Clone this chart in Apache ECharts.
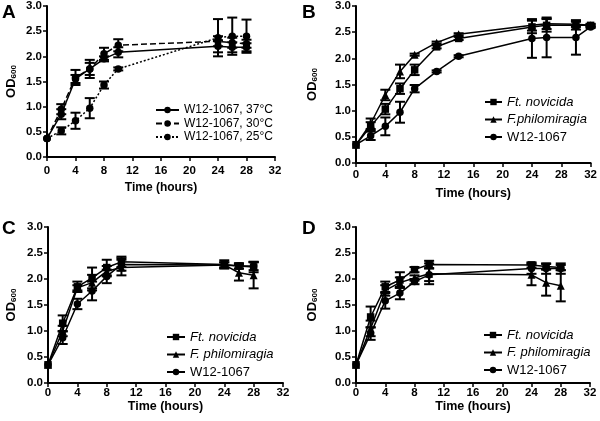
<!DOCTYPE html>
<html>
<head>
<meta charset="utf-8">
<script src="https://cdn.jsdelivr.net/npm/echarts@6/dist/echarts.min.js"></script>
<style>
  body { margin: 0; background: #fff; }
  #chart { width: 600px; height: 421px; }
</style>
</head>
<body>
<div id="chart"></div>
<script>
// panel A: W12-1067 at three temperatures
var timeA = [0, 2, 4, 6, 8, 10, 24, 26, 28];
var a37 = [0.37, 0.85, 1.55, 1.75, 1.95, 2.08, 2.2, 2.18, 2.18];
var a37Err = [0, 0.1, 0.08, 0.12, 0.05, 0.1, 0.12, 0.1, 0.08];
var a30 = [0.37, 0.95, 1.58, 1.75, 2.05, 2.22, 2.3, 2.27, 2.25];
var a30Err = [0, 0.1, 0.15, 0.18, 0.12, 0.12, 0.1, 0.1, 0.08];
var a25 = [0.37, 0.52, 0.72, 0.97, 1.43, 1.75, 2.37, 2.4, 2.4];
var a25Err = [0, 0.07, 0.16, 0.2, 0.07, 0.03, 0.37, 0.37, 0.33];

// panel B
var timeB = [0, 2, 4, 6, 8, 11, 14, 24, 26, 30, 32];
var bNov = [0.35, 0.7, 1.03, 1.42, 1.78, 2.22, 2.38, 2.6, 2.63, 2.63, 2.63];
var bNovErr = [0, 0.08, 0.1, 0.1, 0.1, 0.03, 0.03, 0.12, 0.12, 0.08, 0.03];
var bPhi = [0.35, 0.75, 1.3, 1.75, 2.07, 2.3, 2.46, 2.63, 2.66, 2.65, 2.63];
var bPhiErr = [0, 0.1, 0.1, 0.13, 0.02, 0.02, 0.02, 0.1, 0.1, 0.05, 0.02];
var bW12 = [0.35, 0.52, 0.7, 0.97, 1.42, 1.75, 2.04, 2.38, 2.4, 2.4, 2.6];
var bW12Err = [0, 0.08, 0.17, 0.2, 0.07, 0.02, 0.02, 0.37, 0.38, 0.33, 0.02];

// panel C
var timeC = [0, 2, 4, 6, 8, 10, 24, 26, 28];
var cNov = [0.35, 1.15, 1.85, 2.02, 2.22, 2.33, 2.28, 2.25, 2.23];
var cNovErr = [0, 0.15, 0.1, 0.2, 0.15, 0.1, 0.08, 0.05, 0.1];
var cPhi = [0.35, 1.0, 1.83, 1.93, 2.15, 2.22, 2.27, 2.12, 2.07];
var cPhiErr = [0, 0.1, 0.05, 0.15, 0.1, 0.15, 0.05, 0.15, 0.25];
var cW12 = [0.35, 0.87, 1.52, 1.77, 2.05, 2.28, 2.27, 2.25, 2.25];
var cW12Err = [0, 0.12, 0.1, 0.18, 0.13, 0.12, 0.05, 0.05, 0.08];

// panel D
var timeD = [0, 2, 4, 6, 8, 10, 24, 26, 28];
var dNov = [0.35, 1.27, 1.85, 1.98, 2.18, 2.28, 2.27, 2.24, 2.22];
var dNovErr = [0, 0.2, 0.1, 0.15, 0.05, 0.07, 0.05, 0.05, 0.05];
var dPhi = [0.35, 1.05, 1.78, 1.93, 2.02, 2.1, 2.08, 1.93, 1.87];
var dPhiErr = [0, 0.15, 0.1, 0.1, 0.05, 0.2, 0.2, 0.25, 0.3];
var dW12 = [0.35, 0.95, 1.58, 1.73, 1.95, 2.08, 2.2, 2.2, 2.2];
var dW12Err = [0, 0.12, 0.15, 0.12, 0.05, 0.12, 0.1, 0.1, 0.1];

var yTicks = ['0.0', '0.5', '1.0', '1.5', '2.0', '2.5', '3.0'];

var font = 'Liberation Sans, Arial, sans-serif';

var panels = [
  { left: 47, top: 5, width: 228, height: 152, xGap: 25, yGap: 28, labelMargin: 8, fs: 12 },
  { left: 356, top: 5, width: 237, height: 158, xGap: 24, yGap: 36, labelMargin: 6, fs: 12.5 },
  { left: 48, top: 227, width: 235, height: 156, xGap: 16, yGap: 29, labelMargin: 4, fs: 12.5 },
  { left: 356, top: 227, width: 234, height: 156, xGap: 16, yGap: 36, labelMargin: 4, fs: 12.5 }
];

var grids = [], xAxes = [], yAxes = [];
panels.forEach(function (p, i) {
  grids.push({ left: p.left, top: p.top, width: p.width, height: p.height });
  xAxes.push({
    gridIndex: i, type: 'value', min: 0, max: 32, interval: 4,
    name: 'Time (hours)', nameLocation: 'middle', nameGap: p.xGap,
    nameTextStyle: { fontFamily: font, fontWeight: 'bold', fontSize: p.fs, color: '#000' },
    axisLine: { lineStyle: { color: '#000', width: 2 } },
    axisTick: { length: 4, lineStyle: { width: 1.5 } },
    axisLabel: { fontFamily: font, fontWeight: 'bold', fontSize: 11.5, color: '#000', margin: p.labelMargin },
    splitLine: { show: false }
  });
  yAxes.push({
    gridIndex: i, type: 'value', min: 0, max: 3, interval: 0.5,
    name: '{b|OD}{s|600}', nameLocation: 'middle', nameGap: p.yGap, nameRotate: 90,
    nameTextStyle: {
      rich: {
        b: { fontFamily: font, fontWeight: 'bold', fontSize: 13, color: '#000', lineHeight: 16 },
        s: { fontFamily: font, fontWeight: 'bold', fontSize: 8, color: '#000', lineHeight: 16, padding: [6, 0, 0, 0] }
      }
    },
    axisLine: { show: true, lineStyle: { color: '#000', width: 2 } },
    axisTick: { show: true, length: 4, lineStyle: { width: 1.5 } },
    axisLabel: {
      fontFamily: font, fontWeight: 'bold', fontSize: 11.5, color: '#000', margin: 5,
      formatter: function (v) { return yTicks[Math.round(v * 2)]; }
    },
    splitLine: { show: false }
  });
});

function lineSeries(name, idx, times, vals, symbol, type) {
  return {
    name: name, type: 'line', xAxisIndex: idx, yAxisIndex: idx,
    data: times.map(function (t, i) { return [t, vals[i]]; }),
    symbol: symbol, symbolSize: symbol === 'triangle' ? 8 : 7.5,
    itemStyle: { color: '#000' },
    lineStyle: { color: '#000', width: 1.5, type: type || 'solid' },
    z: 3
  };
}

function errSeries(idx, times, vals, errs) {
  return {
    type: 'custom', xAxisIndex: idx, yAxisIndex: idx, silent: true, z: 2,
    data: times.map(function (t, i) { return [t, vals[i] - errs[i], vals[i] + errs[i]]; })
      .filter(function (d, i) { return errs[i] > 0; }),
    renderItem: function (params, api) {
      var lo = api.coord([api.value(0), api.value(1)]);
      var hi = api.coord([api.value(0), api.value(2)]);
      var st = { stroke: '#000', lineWidth: 2 };
      return {
        type: 'group', children: [
          { type: 'line', shape: { x1: lo[0], y1: lo[1], x2: hi[0], y2: hi[1] }, style: st },
          { type: 'line', shape: { x1: lo[0] - 5, y1: lo[1], x2: lo[0] + 5, y2: lo[1] }, style: st },
          { type: 'line', shape: { x1: hi[0] - 5, y1: hi[1], x2: hi[0] + 5, y2: hi[1] }, style: st }
        ]
      };
    }
  };
}

var series = [
  lineSeries('W12-1067, 37°C', 0, timeA, a37, 'circle', 'solid'),
  lineSeries('W12-1067, 30°C', 0, timeA, a30, 'circle', [6, 3]),
  lineSeries('W12-1067, 25°C', 0, timeA, a25, 'circle', [2, 2]),
  errSeries(0, timeA, a37, a37Err),
  errSeries(0, timeA, a30, a30Err),
  errSeries(0, timeA, a25, a25Err),

  lineSeries('Ft. novicida', 1, timeB, bNov, 'rect'),
  lineSeries('F.philomiragia', 1, timeB, bPhi, 'triangle'),
  lineSeries('W12-1067', 1, timeB, bW12, 'circle'),
  errSeries(1, timeB, bNov, bNovErr),
  errSeries(1, timeB, bPhi, bPhiErr),
  errSeries(1, timeB, bW12, bW12Err),

  lineSeries('Ft. novicida ', 2, timeC, cNov, 'rect'),
  lineSeries('F. philomiragia', 2, timeC, cPhi, 'triangle'),
  lineSeries('W12-1067 ', 2, timeC, cW12, 'circle'),
  errSeries(2, timeC, cNov, cNovErr),
  errSeries(2, timeC, cPhi, cPhiErr),
  errSeries(2, timeC, cW12, cW12Err),

  lineSeries('Ft. novicida  ', 3, timeD, dNov, 'rect'),
  lineSeries('F. philomiragia ', 3, timeD, dPhi, 'triangle'),
  lineSeries('W12-1067  ', 3, timeD, dW12, 'circle'),
  errSeries(3, timeD, dNov, dNovErr),
  errSeries(3, timeD, dPhi, dPhiErr),
  errSeries(3, timeD, dW12, dW12Err)
];

function legendFmt(name) {
  var n = name.trim();
  if (n.indexOf('W12') === 0) return n;
  return '{i|' + n + '}';
}

function legend(names, left, top, fs, gap, w) {
  return {
    data: names, orient: 'vertical', left: left, top: top, padding: 0,
    itemWidth: w, itemHeight: 8, itemGap: gap, selectedMode: false,
    formatter: legendFmt,
    textStyle: {
      fontFamily: font, fontSize: fs, color: '#000',
      rich: { i: { fontFamily: font, fontSize: fs, fontStyle: 'italic', color: '#000' } }
    }
  };
}

var option = {
  animation: false,
  grid: grids,
  xAxis: xAxes,
  yAxis: yAxes,
  legend: [
    legend(['W12-1067, 37°C', 'W12-1067, 30°C', 'W12-1067, 25°C'], 155, 104, 12, 1.5, 23),
    legend(['Ft. novicida', 'F.philomiragia', 'W12-1067'], 484, 95.5, 13, 4.5, 17),
    legend(['Ft. novicida ', 'F. philomiragia', 'W12-1067 '], 166, 330.5, 13, 4.5, 18),
    legend(['Ft. novicida  ', 'F. philomiragia ', 'W12-1067  '], 483, 328.5, 13, 4.5, 18)
  ],
  graphic: [
    { type: 'text', left: 2, top: 3, style: { text: 'A', font: 'bold 19px ' + font, fill: '#000' } },
    { type: 'text', left: 302, top: 3, style: { text: 'B', font: 'bold 19px ' + font, fill: '#000' } },
    { type: 'text', left: 2, top: 219, style: { text: 'C', font: 'bold 19px ' + font, fill: '#000' } },
    { type: 'text', left: 302, top: 219, style: { text: 'D', font: 'bold 19px ' + font, fill: '#000' } }
  ],
  series: series
};

var chart = echarts.init(document.getElementById('chart'));
chart.setOption(option);
</script>
</body>
</html>
